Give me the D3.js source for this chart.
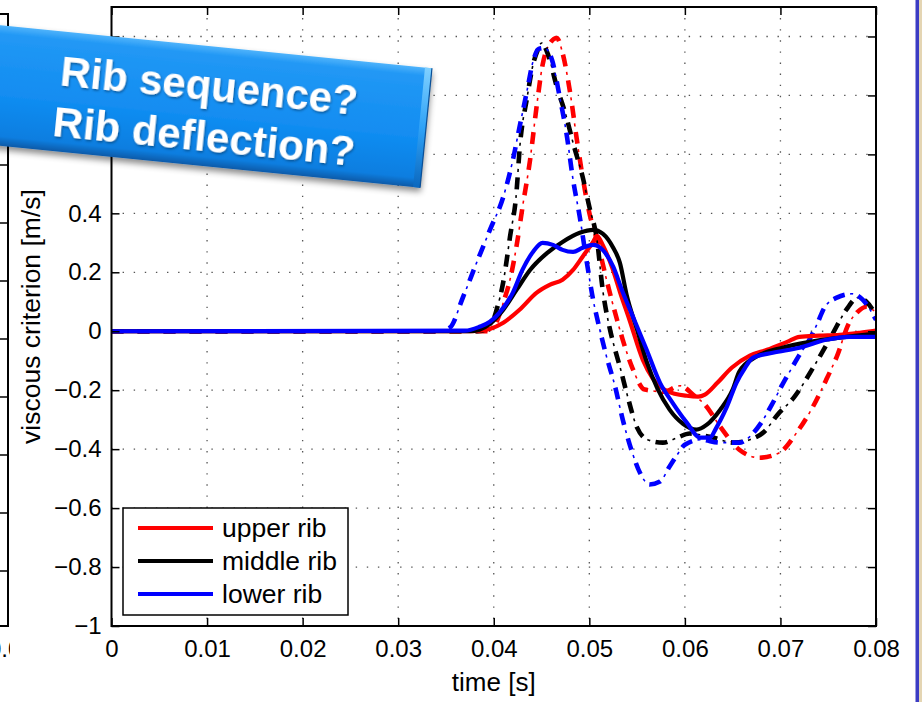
<!DOCTYPE html>
<html>
<head>
<meta charset="utf-8">
<script src="https://cdn.jsdelivr.net/npm/d3@7"></script>
<style>
  body { margin: 0; background: #fff; }
  svg { display: block; font-family: "Liberation Sans", Arial, Helvetica, sans-serif; }
</style>
</head>
<body>
<svg id="chart" width="922" height="702"></svg>
<script>
// values, as [time (s), viscous criterion (m/s)]
const upperSolid = [
  [0, 0], [0.0370, 0], [0.0385, 0.002], [0.0396, 0.008], [0.0410, 0.029], [0.0427, 0.073],
  [0.0445, 0.131], [0.0459, 0.158], [0.0472, 0.175], [0.0483, 0.208], [0.0493, 0.253],
  [0.0504, 0.303], [0.0508, 0.324], [0.0514, 0.293], [0.0524, 0.215], [0.0532, 0.134],
  [0.0542, 0.039], [0.0556, -0.097], [0.0566, -0.158], [0.0581, -0.202], [0.0602, -0.219],
  [0.0614, -0.222], [0.0621, -0.215], [0.0634, -0.175], [0.0649, -0.124], [0.0668, -0.083],
  [0.0686, -0.063], [0.0707, -0.036], [0.0720, -0.019], [0.0741, -0.015], [0.0762, -0.012],
  [0.0783, -0.005], [0.0800, 0.002]
];
const middleSolid = [
  [0, 0], [0.0375, 0], [0.0385, 0.005], [0.0396, 0.025], [0.0410, 0.073], [0.0424, 0.141],
  [0.0438, 0.208], [0.0456, 0.266], [0.0472, 0.303], [0.0490, 0.334], [0.0504, 0.344],
  [0.0514, 0.331], [0.0525, 0.283], [0.0532, 0.232], [0.0539, 0.124], [0.0550, 0.005],
  [0.0560, -0.103], [0.0571, -0.192], [0.0584, -0.266], [0.0598, -0.314], [0.0612, -0.334],
  [0.0623, -0.317], [0.0637, -0.266], [0.0650, -0.198], [0.0657, -0.137], [0.0675, -0.086],
  [0.0702, -0.056], [0.0731, -0.036], [0.0762, -0.022], [0.0800, -0.008]
];
const lowerSolid = [
  [0, 0], [0.0370, 0.002], [0.0385, 0.015], [0.0396, 0.032], [0.0406, 0.063], [0.0420, 0.131],
  [0.0430, 0.208], [0.0441, 0.269], [0.0451, 0.300], [0.0462, 0.293], [0.0472, 0.276],
  [0.0483, 0.269], [0.0493, 0.283], [0.0504, 0.293], [0.0514, 0.276], [0.0525, 0.219],
  [0.0534, 0.141], [0.0547, 0.039], [0.0560, -0.063], [0.0574, -0.175], [0.0587, -0.242],
  [0.0602, -0.310], [0.0616, -0.361], [0.0626, -0.361], [0.0633, -0.327], [0.0644, -0.256],
  [0.0654, -0.175], [0.0663, -0.124], [0.0671, -0.090], [0.0692, -0.073], [0.0720, -0.056],
  [0.0748, -0.029], [0.0772, -0.019], [0.0800, -0.019]
];
const upperDash = [
  [0, 0], [0.0396, 0], [0.0403, 0.032], [0.0410, 0.097], [0.0417, 0.175], [0.0424, 0.292],
  [0.0430, 0.419], [0.0438, 0.581], [0.0445, 0.766], [0.0451, 0.902], [0.0459, 0.978],
  [0.0466, 0.995], [0.0472, 0.944], [0.0480, 0.808], [0.0487, 0.649], [0.0493, 0.524],
  [0.0500, 0.402], [0.0508, 0.310], [0.0518, 0.175], [0.0529, 0.039], [0.0535, -0.029],
  [0.0545, -0.124], [0.0558, -0.198], [0.0578, -0.205], [0.0595, -0.185], [0.0610, -0.219],
  [0.0621, -0.249], [0.0637, -0.324], [0.0657, -0.402], [0.0678, -0.429], [0.0699, -0.412],
  [0.0717, -0.344], [0.0734, -0.256], [0.0748, -0.164], [0.0759, -0.086], [0.0772, 0.029],
  [0.0780, 0.063], [0.0790, 0.083], [0.0800, 0.063]
];
const middleDash = [
  [0, 0], [0.0383, 0], [0.0396, 0.015], [0.0403, 0.073], [0.0410, 0.168], [0.0417, 0.320],
  [0.0424, 0.480], [0.0427, 0.615], [0.0435, 0.795], [0.0441, 0.903], [0.0446, 0.954],
  [0.0450, 0.978], [0.0457, 0.937], [0.0466, 0.829], [0.0476, 0.727], [0.0483, 0.639],
  [0.0493, 0.524], [0.0500, 0.422], [0.0508, 0.310], [0.0514, 0.141], [0.0521, 0.015],
  [0.0527, -0.063], [0.0532, -0.120], [0.0539, -0.208], [0.0550, -0.327], [0.0561, -0.368],
  [0.0577, -0.378], [0.0592, -0.361], [0.0605, -0.347], [0.0626, -0.358], [0.0652, -0.378],
  [0.0668, -0.368], [0.0683, -0.341], [0.0697, -0.283], [0.0714, -0.225], [0.0736, -0.114],
  [0.0754, -0.012], [0.0769, 0.073], [0.0781, 0.114], [0.0790, 0.100], [0.0800, 0.056]
];
const lowerDash = [
  [0, 0], [0.0343, 0], [0.0354, 0.012], [0.0368, 0.117], [0.0382, 0.232], [0.0396, 0.344],
  [0.0410, 0.456], [0.0420, 0.581], [0.0427, 0.693], [0.0435, 0.819], [0.0441, 0.914],
  [0.0447, 0.958], [0.0453, 0.961], [0.0461, 0.920], [0.0469, 0.795], [0.0476, 0.673],
  [0.0483, 0.514], [0.0490, 0.388], [0.0497, 0.242], [0.0504, 0.107], [0.0511, 0.005],
  [0.0518, -0.086], [0.0527, -0.188], [0.0535, -0.300], [0.0544, -0.402], [0.0553, -0.480],
  [0.0563, -0.520], [0.0574, -0.510], [0.0584, -0.459], [0.0592, -0.419], [0.0600, -0.385],
  [0.0616, -0.368], [0.0637, -0.378], [0.0657, -0.378], [0.0670, -0.351], [0.0680, -0.310],
  [0.0691, -0.249], [0.0702, -0.181], [0.0712, -0.124], [0.0720, -0.080], [0.0729, -0.036],
  [0.0738, 0.022], [0.0746, 0.080], [0.0759, 0.114], [0.0775, 0.127], [0.0786, 0.107],
  [0.0800, 0.039]
];

const ribNames = ['upper rib', 'middle rib', 'lower rib'];
const ribColors = ['#ff0000', '#000000', '#0000ff'];
const xTicks = [0, 0.01, 0.02, 0.03, 0.04, 0.05, 0.06, 0.07, 0.08];
const yTicks = [-1, -0.8, -0.6, -0.4, -0.2, 0, 0.2, 0.4, 0.6, 0.8, 1];
const bannerLines = ['Rib sequence?', 'Rib deflection?'];
const xLabel = 'time [s]';
const yLabel = 'viscous criterion [m/s]';

const series = ribNames.map((name, i) => ({
  name,
  color: ribColors[i],
  solid: [upperSolid, middleSolid, lowerSolid][i],
  dash: [upperDash, middleDash, lowerDash][i]
}));

const svg = d3.select('#chart');
const W = 922, H = 702;
const plot = { left: 111.5, right: 876, top: 7, bottom: 626 };

const x = d3.scaleLinear().domain([0, 0.08]).range([plot.left, plot.right]);
const y = d3.scaleLinear().domain([-1, 1.1]).range([plot.bottom, plot.top]);

const fmtX = d => d === 0 ? '0' : d.toFixed(2);
const fmtY = d => {
  if (d > 0.41) return '';            // these labels sit under the banner
  const a = Math.abs(d);
  const s = a === 0 ? '0' : a === 1 ? '1' : a.toFixed(1);
  return (d < 0 ? '\u2212' : '') + s;
};

svg.append('rect').attr('width', W).attr('height', H).attr('fill', '#fff');

// clip for the data lines
const defs = svg.append('defs');
defs.append('clipPath').attr('id', 'plotClip')
  .append('rect')
  .attr('x', plot.left).attr('y', plot.top)
  .attr('width', plot.right - plot.left).attr('height', plot.bottom - plot.top);

// ---- neighbouring subplot sliver on the left ----
defs.append('clipPath').attr('id', 'leftClip')
  .append('rect').attr('x', 0).attr('y', 0).attr('width', 10).attr('height', H);
const yLeft = d3.scaleLinear().domain([-1, 1.1]).range([629, 20]);
const left = svg.append('g').attr('clip-path', 'url(#leftClip)');
left.append('path')
  .attr('d', `M-10,14H8V626H-10`)
  .attr('fill', 'none').attr('stroke', '#000').attr('stroke-width', 2);
left.selectAll('line.lt').data(yTicks.filter(v => v > -1))
  .join('line')
  .attr('x1', 0).attr('x2', 8)
  .attr('y1', d => yLeft(d)).attr('y2', d => yLeft(d))
  .attr('stroke', '#000').attr('stroke-width', 1.5);
left.append('text').attr('x', -12).attr('y', 657)
  .attr('font-size', 24).text('0.0');

// ---- grid ----
const grid = svg.append('g')
  .attr('stroke', '#555').attr('stroke-width', 1.3)
  .attr('stroke-dasharray', '1.4,9.7');
grid.selectAll('line.gx').data(xTicks.slice(1, -1))
  .join('line')
  .attr('x1', d => x(d)).attr('x2', d => x(d))
  .attr('y1', plot.top).attr('y2', plot.bottom);
grid.selectAll('line.gy').data(yTicks.slice(1))
  .join('line')
  .attr('x1', plot.left).attr('x2', plot.right)
  .attr('y1', d => y(d)).attr('y2', d => y(d));

// ---- curves ----
const line = d3.line()
  .x(d => x(d[0]))
  .y(d => y(d[1]))
  .curve(d3.curveMonotoneX);

const lines = svg.append('g').attr('clip-path', 'url(#plotClip)')
  .attr('fill', 'none').attr('stroke-linejoin', 'round');

// dash-dot: thick dashes plus thin dots in the gaps
series.forEach(s => {
  lines.append('path').datum(s.dash)
    .attr('d', line)
    .attr('stroke', s.color).attr('stroke-width', 4.6)
    .attr('stroke-dasharray', '12,14');
  lines.append('path').datum(s.dash)
    .attr('d', line)
    .attr('stroke', s.color).attr('stroke-width', 1.6)
    .attr('stroke-dasharray', '3,23').attr('stroke-dashoffset', 8.5);
});
series.forEach(s => {
  lines.append('path').datum(s.solid)
    .attr('d', line)
    .attr('stroke', s.color).attr('stroke-width', 4.2);
});

// ---- axes ----
const styleAxis = g => {
  g.select('.domain').remove();
  g.attr('font-family', null).attr('font-size', null);
  g.selectAll('.tick line').attr('stroke', '#000').attr('stroke-width', 1.5);
  g.selectAll('.tick text').attr('font-size', 24).attr('fill', '#000');
};

svg.append('g').attr('transform', `translate(0,${plot.bottom})`)
  .call(d3.axisBottom(x).tickValues(xTicks).tickSize(-8).tickPadding(14).tickFormat(fmtX))
  .call(styleAxis);
svg.append('g').attr('transform', `translate(0,${plot.top})`)
  .call(d3.axisTop(x).tickValues(xTicks).tickSize(-8).tickFormat(''))
  .call(styleAxis);
svg.append('g').attr('transform', `translate(${plot.left},0)`)
  .call(d3.axisLeft(y).tickValues(yTicks).tickSize(-8).tickPadding(10).tickFormat(fmtY))
  .call(styleAxis);
svg.append('g').attr('transform', `translate(${plot.right},0)`)
  .call(d3.axisRight(y).tickValues(yTicks).tickSize(-8).tickFormat(''))
  .call(styleAxis);

svg.append('rect')
  .attr('x', plot.left).attr('y', plot.top)
  .attr('width', plot.right - plot.left).attr('height', plot.bottom - plot.top)
  .attr('fill', 'none').attr('stroke', '#000').attr('stroke-width', 2);

svg.append('text')
  .attr('x', (plot.left + plot.right) / 2).attr('y', 691)
  .attr('text-anchor', 'middle').attr('font-size', 26)
  .text(xLabel);
svg.append('text')
  .attr('transform', `translate(40,${(plot.top + plot.bottom) / 2}) rotate(-90)`)
  .attr('text-anchor', 'middle').attr('font-size', 26.5)
  .text(yLabel);

// ---- legend ----
const legend = svg.append('g').attr('transform', 'translate(123,508)');
legend.append('rect')
  .attr('width', 225).attr('height', 107)
  .attr('fill', '#fff').attr('stroke', '#000').attr('stroke-width', 1.5);
const rows = legend.selectAll('g.row').data(series)
  .join('g')
  .attr('transform', (d, i) => `translate(0,${20 + i * 33})`);
rows.append('line')
  .attr('x1', 15).attr('x2', 90)
  .attr('stroke', d => d.color).attr('stroke-width', 4);
rows.append('text')
  .attr('x', 99).attr('y', 9)
  .attr('font-size', 26.5)
  .text(d => d.name);

// ---- right edge of the slide ----
svg.append('rect').attr('x', 919).attr('y', 0).attr('width', 3).attr('height', H).attr('fill', '#e4d5b3');
svg.append('rect').attr('x', 915.5).attr('y', 0).attr('width', 3.5).attr('height', H).attr('fill', '#3c3cc4');

// ---- callout banner ----
const grad = defs.append('linearGradient').attr('id', 'bannerFill')
  .attr('x1', 0).attr('y1', 0).attr('x2', 0).attr('y2', 1);
grad.append('stop').attr('offset', 0).attr('stop-color', '#4fb3fb');
grad.append('stop').attr('offset', 0.07).attr('stop-color', '#2298f5');
grad.append('stop').attr('offset', 0.6).attr('stop-color', '#118cf1');
grad.append('stop').attr('offset', 0.92).attr('stop-color', '#0c7ee0');
grad.append('stop').attr('offset', 1).attr('stop-color', '#0a5aa8');

const bevel = defs.append('linearGradient').attr('id', 'bannerBevel')
  .attr('x1', 0).attr('y1', 0).attr('x2', 0).attr('y2', 1);
bevel.append('stop').attr('offset', 0).attr('stop-color', '#7fd0ff');
bevel.append('stop').attr('offset', 0.5).attr('stop-color', '#2ea2f7');
bevel.append('stop').attr('offset', 1).attr('stop-color', '#0b68bf');

const shadow = defs.append('filter').attr('id', 'bannerShadow')
  .attr('x', '-10%').attr('y', '-20%').attr('width', '120%').attr('height', '150%');
shadow.append('feDropShadow')
  .attr('dx', 1).attr('dy', 4).attr('stdDeviation', 3)
  .attr('flood-color', '#000').attr('flood-opacity', 0.45);

const textShadow = defs.append('filter').attr('id', 'textShadow');
textShadow.append('feDropShadow')
  .attr('dx', 1).attr('dy', 1.5).attr('stdDeviation', 1)
  .attr('flood-color', '#06335f').attr('flood-opacity', 0.6);

const banner = svg.append('g').attr('transform', 'translate(426,128) rotate(5.7)');
banner.append('rect')
  .attr('x', -560).attr('y', -60).attr('width', 560).attr('height', 120)
  .attr('fill', 'url(#bannerFill)').attr('filter', 'url(#bannerShadow)');
banner.append('rect')
  .attr('x', -7).attr('y', -60).attr('width', 7).attr('height', 120)
  .attr('fill', 'url(#bannerBevel)');
banner.append('line')
  .attr('x1', 0).attr('x2', 0).attr('y1', -60).attr('y2', 60)
  .attr('stroke', '#0a4f96').attr('stroke-width', 1.2);
banner.selectAll('text').data(bannerLines)
  .join('text')
  .attr('x', -220).attr('y', (d, i) => -6 + i * 51)
  .attr('text-anchor', 'middle')
  .attr('font-size', 42).attr('font-weight', 'bold')
  .attr('fill', '#fff').attr('filter', 'url(#textShadow)')
  .text(d => d);
</script>
</body>
</html>
